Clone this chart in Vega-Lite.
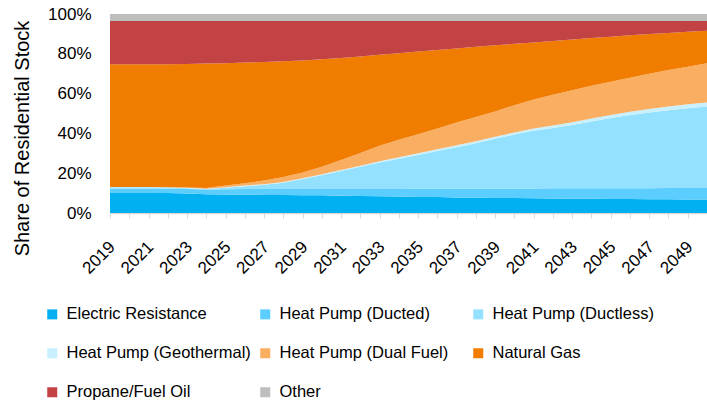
{
  "$schema": "https://vega.github.io/schema/vega-lite/v6.json",
  "autosize": "none",
  "width": 597,
  "height": 199,
  "padding": {"left": 110, "top": 14, "right": 0, "bottom": 190},
  "background": "white",
  "config": {
    "view": {"stroke": null},
    "font": "Liberation Sans"
  },
  "data": {
    "values": [
      {"year": 2019, "Electric Resistance": 10.1, "Heat Pump (Ducted)": 2.2, "Heat Pump (Ductless)": 0.6, "Heat Pump (Geothermal)": 0.2, "Heat Pump (Dual Fuel)": 0.0, "Natural Gas": 61.6, "Propane/Fuel Oil": 21.8, "Other": 3.5},
      {"year": 2020, "Electric Resistance": 10.1, "Heat Pump (Ducted)": 2.2, "Heat Pump (Ductless)": 0.6, "Heat Pump (Geothermal)": 0.2, "Heat Pump (Dual Fuel)": 0.0, "Natural Gas": 61.6, "Propane/Fuel Oil": 21.8, "Other": 3.5},
      {"year": 2021, "Electric Resistance": 10.1, "Heat Pump (Ducted)": 2.2, "Heat Pump (Ductless)": 0.6, "Heat Pump (Geothermal)": 0.2, "Heat Pump (Dual Fuel)": 0.0, "Natural Gas": 61.6, "Propane/Fuel Oil": 21.8, "Other": 3.5},
      {"year": 2022, "Electric Resistance": 10.0, "Heat Pump (Ducted)": 2.2, "Heat Pump (Ductless)": 0.6, "Heat Pump (Geothermal)": 0.2, "Heat Pump (Dual Fuel)": 0.0, "Natural Gas": 61.8, "Propane/Fuel Oil": 21.7, "Other": 3.5},
      {"year": 2023, "Electric Resistance": 9.8, "Heat Pump (Ducted)": 2.3, "Heat Pump (Ductless)": 0.4, "Heat Pump (Geothermal)": 0.2, "Heat Pump (Dual Fuel)": 0.1, "Natural Gas": 62.1, "Propane/Fuel Oil": 21.6, "Other": 3.5},
      {"year": 2024, "Electric Resistance": 9.4, "Heat Pump (Ducted)": 2.4, "Heat Pump (Ductless)": 0.2, "Heat Pump (Geothermal)": 0.2, "Heat Pump (Dual Fuel)": 0.4, "Natural Gas": 62.5, "Propane/Fuel Oil": 21.4, "Other": 3.5},
      {"year": 2025, "Electric Resistance": 9.3, "Heat Pump (Ducted)": 2.6, "Heat Pump (Ductless)": 0.8, "Heat Pump (Geothermal)": 0.3, "Heat Pump (Dual Fuel)": 0.8, "Natural Gas": 61.5, "Propane/Fuel Oil": 21.2, "Other": 3.5},
      {"year": 2026, "Electric Resistance": 9.2, "Heat Pump (Ducted)": 2.8, "Heat Pump (Ductless)": 1.5, "Heat Pump (Geothermal)": 0.3, "Heat Pump (Dual Fuel)": 1.2, "Natural Gas": 60.6, "Propane/Fuel Oil": 20.9, "Other": 3.5},
      {"year": 2027, "Electric Resistance": 9.1, "Heat Pump (Ducted)": 2.9, "Heat Pump (Ductless)": 2.2, "Heat Pump (Geothermal)": 0.3, "Heat Pump (Dual Fuel)": 1.8, "Natural Gas": 59.6, "Propane/Fuel Oil": 20.6, "Other": 3.5},
      {"year": 2028, "Electric Resistance": 9.0, "Heat Pump (Ducted)": 3.0, "Heat Pump (Ductless)": 3.2, "Heat Pump (Geothermal)": 0.4, "Heat Pump (Dual Fuel)": 2.5, "Natural Gas": 58.1, "Propane/Fuel Oil": 20.3, "Other": 3.5},
      {"year": 2029, "Electric Resistance": 8.9, "Heat Pump (Ducted)": 3.1, "Heat Pump (Ductless)": 5.1, "Heat Pump (Geothermal)": 0.4, "Heat Pump (Dual Fuel)": 2.8, "Natural Gas": 56.3, "Propane/Fuel Oil": 19.9, "Other": 3.5},
      {"year": 2030, "Electric Resistance": 8.9, "Heat Pump (Ducted)": 3.1, "Heat Pump (Ductless)": 7.0, "Heat Pump (Geothermal)": 0.5, "Heat Pump (Dual Fuel)": 3.8, "Natural Gas": 53.9, "Propane/Fuel Oil": 19.3, "Other": 3.5},
      {"year": 2031, "Electric Resistance": 8.7, "Heat Pump (Ducted)": 3.4, "Heat Pump (Ductless)": 9.0, "Heat Pump (Geothermal)": 0.5, "Heat Pump (Dual Fuel)": 5.0, "Natural Gas": 51.3, "Propane/Fuel Oil": 18.6, "Other": 3.5},
      {"year": 2032, "Electric Resistance": 8.5, "Heat Pump (Ducted)": 3.6, "Heat Pump (Ductless)": 11.1, "Heat Pump (Geothermal)": 0.6, "Heat Pump (Dual Fuel)": 6.4, "Natural Gas": 48.5, "Propane/Fuel Oil": 17.8, "Other": 3.5},
      {"year": 2033, "Electric Resistance": 8.4, "Heat Pump (Ducted)": 3.7, "Heat Pump (Ductless)": 13.3, "Heat Pump (Geothermal)": 0.6, "Heat Pump (Dual Fuel)": 7.8, "Natural Gas": 45.7, "Propane/Fuel Oil": 17.0, "Other": 3.5},
      {"year": 2034, "Electric Resistance": 8.3, "Heat Pump (Ducted)": 3.8, "Heat Pump (Ductless)": 15.2, "Heat Pump (Geothermal)": 0.7, "Heat Pump (Dual Fuel)": 8.8, "Natural Gas": 43.5, "Propane/Fuel Oil": 16.2, "Other": 3.5},
      {"year": 2035, "Electric Resistance": 8.1, "Heat Pump (Ducted)": 4.1, "Heat Pump (Ductless)": 17.0, "Heat Pump (Geothermal)": 0.8, "Heat Pump (Dual Fuel)": 9.6, "Natural Gas": 41.5, "Propane/Fuel Oil": 15.4, "Other": 3.5},
      {"year": 2036, "Electric Resistance": 8.0, "Heat Pump (Ducted)": 4.2, "Heat Pump (Ductless)": 19.0, "Heat Pump (Geothermal)": 0.8, "Heat Pump (Dual Fuel)": 10.5, "Natural Gas": 39.4, "Propane/Fuel Oil": 14.6, "Other": 3.5},
      {"year": 2037, "Electric Resistance": 7.8, "Heat Pump (Ducted)": 4.4, "Heat Pump (Ductless)": 20.9, "Heat Pump (Geothermal)": 0.9, "Heat Pump (Dual Fuel)": 11.5, "Natural Gas": 37.2, "Propane/Fuel Oil": 13.8, "Other": 3.5},
      {"year": 2038, "Electric Resistance": 7.7, "Heat Pump (Ducted)": 4.5, "Heat Pump (Ductless)": 22.8, "Heat Pump (Geothermal)": 1.0, "Heat Pump (Dual Fuel)": 12.3, "Natural Gas": 35.2, "Propane/Fuel Oil": 13.0, "Other": 3.5},
      {"year": 2039, "Electric Resistance": 7.6, "Heat Pump (Ducted)": 4.7, "Heat Pump (Ductless)": 25.0, "Heat Pump (Geothermal)": 1.0, "Heat Pump (Dual Fuel)": 12.7, "Natural Gas": 33.3, "Propane/Fuel Oil": 12.2, "Other": 3.5},
      {"year": 2040, "Electric Resistance": 7.5, "Heat Pump (Ducted)": 4.8, "Heat Pump (Ductless)": 27.1, "Heat Pump (Geothermal)": 1.1, "Heat Pump (Dual Fuel)": 13.7, "Natural Gas": 30.8, "Propane/Fuel Oil": 11.5, "Other": 3.5},
      {"year": 2041, "Electric Resistance": 7.4, "Heat Pump (Ducted)": 4.9, "Heat Pump (Ductless)": 29.0, "Heat Pump (Geothermal)": 1.2, "Heat Pump (Dual Fuel)": 14.5, "Natural Gas": 28.7, "Propane/Fuel Oil": 10.8, "Other": 3.5},
      {"year": 2042, "Electric Resistance": 7.3, "Heat Pump (Ducted)": 5.1, "Heat Pump (Ductless)": 30.3, "Heat Pump (Geothermal)": 1.3, "Heat Pump (Dual Fuel)": 15.4, "Natural Gas": 27.0, "Propane/Fuel Oil": 10.1, "Other": 3.5},
      {"year": 2043, "Electric Resistance": 7.2, "Heat Pump (Ducted)": 5.2, "Heat Pump (Ductless)": 31.8, "Heat Pump (Geothermal)": 1.4, "Heat Pump (Dual Fuel)": 16.1, "Natural Gas": 25.5, "Propane/Fuel Oil": 9.3, "Other": 3.5},
      {"year": 2044, "Electric Resistance": 7.1, "Heat Pump (Ducted)": 5.3, "Heat Pump (Ductless)": 33.6, "Heat Pump (Geothermal)": 1.5, "Heat Pump (Dual Fuel)": 16.5, "Natural Gas": 23.9, "Propane/Fuel Oil": 8.6, "Other": 3.5},
      {"year": 2045, "Electric Resistance": 7.0, "Heat Pump (Ducted)": 5.5, "Heat Pump (Ductless)": 35.2, "Heat Pump (Geothermal)": 1.6, "Heat Pump (Dual Fuel)": 16.7, "Natural Gas": 22.6, "Propane/Fuel Oil": 7.9, "Other": 3.5},
      {"year": 2046, "Electric Resistance": 7.0, "Heat Pump (Ducted)": 5.5, "Heat Pump (Ductless)": 36.7, "Heat Pump (Geothermal)": 1.7, "Heat Pump (Dual Fuel)": 17.1, "Natural Gas": 21.3, "Propane/Fuel Oil": 7.2, "Other": 3.5},
      {"year": 2047, "Electric Resistance": 6.9, "Heat Pump (Ducted)": 5.6, "Heat Pump (Ductless)": 38.0, "Heat Pump (Geothermal)": 1.8, "Heat Pump (Dual Fuel)": 17.7, "Natural Gas": 19.9, "Propane/Fuel Oil": 6.6, "Other": 3.5},
      {"year": 2048, "Electric Resistance": 6.9, "Heat Pump (Ducted)": 5.7, "Heat Pump (Ductless)": 39.0, "Heat Pump (Geothermal)": 1.9, "Heat Pump (Dual Fuel)": 18.3, "Natural Gas": 18.7, "Propane/Fuel Oil": 6.0, "Other": 3.5},
      {"year": 2049, "Electric Resistance": 6.8, "Heat Pump (Ducted)": 5.8, "Heat Pump (Ductless)": 40.0, "Heat Pump (Geothermal)": 2.0, "Heat Pump (Dual Fuel)": 18.9, "Natural Gas": 17.6, "Propane/Fuel Oil": 5.4, "Other": 3.5},
      {"year": 2050, "Electric Resistance": 6.8, "Heat Pump (Ducted)": 5.8, "Heat Pump (Ductless)": 40.9, "Heat Pump (Geothermal)": 2.0, "Heat Pump (Dual Fuel)": 19.7, "Natural Gas": 16.4, "Propane/Fuel Oil": 4.9, "Other": 3.5}
    ]
  },
  "transform": [
    {"fold": ["Electric Resistance", "Heat Pump (Ducted)", "Heat Pump (Ductless)", "Heat Pump (Geothermal)", "Heat Pump (Dual Fuel)", "Natural Gas", "Propane/Fuel Oil", "Other"], "as": ["type", "share"]},
    {"lookup": "type", "from": {"data": {"values": [
      {"type": "Electric Resistance", "rank": 1},
      {"type": "Heat Pump (Ducted)", "rank": 2},
      {"type": "Heat Pump (Ductless)", "rank": 3},
      {"type": "Heat Pump (Geothermal)", "rank": 4},
      {"type": "Heat Pump (Dual Fuel)", "rank": 5},
      {"type": "Natural Gas", "rank": 6},
      {"type": "Propane/Fuel Oil", "rank": 7},
      {"type": "Other", "rank": 8}
    ]}, "key": "type", "fields": ["rank"]}}
  ],
  "mark": {"type": "area", "interpolate": "linear"},
  "encoding": {
    "x": {
      "field": "year",
      "type": "quantitative",
      "scale": {"domain": [2019, 2050], "nice": false, "zero": false},
      "axis": {
        "title": null,
        "values": [2019,2020,2021,2022,2023,2024,2025,2026,2027,2028,2029,2030,2031,2032,2033,2034,2035,2036,2037,2038,2039,2040,2041,2042,2043,2044,2045,2046,2047,2048,2049,2050],
        "labelExpr": "datum.value % 2 == 1 ? datum.label : ''",
        "format": "d",
        "grid": false,
        "domainColor": "#D9D9D9",
        "domainWidth": 1.5,
        "tickColor": "#D9D9D9",
        "tickSize": 5,
        "labelAngle": -45,
        "labelAlign": "right",
        "labelBaseline": "middle",
        "labelPadding": 26,
        "labelOffset": 2,
        "labelFontSize": 17,
        "labelColor": "#000000",
        "labelOverlap": false,
        "labelFlush": false
      }
    },
    "y": {
      "field": "share",
      "type": "quantitative",
      "stack": "zero",
      "scale": {"domain": [0, 100], "nice": false},
      "axis": {
        "title": "Share of Residential Stock",
        "titleFontSize": 20,
        "titleFontWeight": "normal",
        "titleColor": "#000000",
        "titleX": -88,
        "titleY": 124,
        "titleAngle": -90,
        "titleAlign": "center",
        "titleBaseline": "middle",
        "values": [0, 20, 40, 60, 80, 100],
        "labelExpr": "datum.value + '%'",
        "grid": false,
        "domain": false,
        "ticks": false,
        "labelPadding": 19,
        "labelFontSize": 17,
        "labelColor": "#000000"
      }
    },
    "color": {
      "field": "type",
      "type": "nominal",
      "scale": {
        "domain": ["Electric Resistance", "Heat Pump (Ducted)", "Heat Pump (Ductless)", "Heat Pump (Geothermal)", "Heat Pump (Dual Fuel)", "Natural Gas", "Propane/Fuel Oil", "Other"],
        "range": ["#00B0F0", "#5BCEFF", "#93E1FF", "#C9F0FF", "#F9AE62", "#F07C00", "#C34244", "#BEBEBE"]
      },
      "legend": {
        "title": null,
        "orient": "none",
        "legendX": -66,
        "legendY": 292,
        "direction": "horizontal",
        "columns": 3,
        "gridAlign": "all",
        "columnPadding": 6,
        "rowPadding": 22,
        "symbolType": "square",
        "symbolSize": 100,
        "symbolStrokeWidth": 0,
        "labelOffset": 6,
        "labelFontSize": 16.5,
        "labelColor": "#000000",
        "labelLimit": 300
      }
    },
    "order": {"field": "rank", "type": "quantitative", "sort": "ascending"}
  }
}
